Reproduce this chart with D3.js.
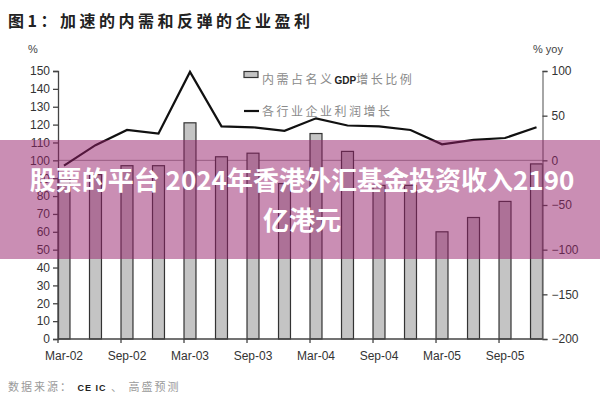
<!DOCTYPE html>
<html>
<head>
<meta charset="utf-8">
<script src="https://cdn.jsdelivr.net/npm/d3@7"></script>
<style>
  body { margin: 0; background: #fff; }
  svg { display: block; font-family: "Liberation Sans", Arial, sans-serif; }
  .cjk { font-family: "Noto Sans CJK SC", "Noto Sans", sans-serif; }
</style>
</head>
<body>
<svg id="chart" width="600" height="400"></svg>
<script>
// quarterly data, Mar-02 .. Dec-05
var quarters = ["Mar-02", "Jun-02", "Sep-02", "Dec-02", "Mar-03", "Jun-03", "Sep-03", "Dec-03",
  "Mar-04", "Jun-04", "Sep-04", "Dec-04", "Mar-05", "Jun-05", "Sep-05", "Dec-05"];
// 内需占名义GDP增长比例 (%), left axis
var domesticShare = [90, 92, 97, 97, 121, 102, 104, 87, 115, 105, 86, 86, 60, 68, 77, 98];
// 各行业企业利润增长 (% yoy), right axis
var profitGrowth = [-6, 17, 34, 30, 99, 38, 37, 33, 47, 39, 38, 34, 18, 23, 25, 37];
var leftTicks = d3.range(0, 151, 10);
var rightTicks = [-200, -150, -100, -50, 0, 50, 100];
var xTickLabels = ["Mar-02", "Sep-02", "Mar-03", "Sep-03", "Mar-04", "Sep-04", "Mar-05", "Sep-05"];

var svg = d3.select('#chart');
// plot box (note: "top" is a reserved window property, so use a plot object)
var plot = { left: 58, right: 542.5, top: 71, bottom: 339 };

// scales
var x = d3.scaleBand()
  .domain(quarters)
  .range([plot.left, plot.right])
  .paddingInner(0.62)
  .paddingOuter(0)
  .align(0);
var yL = d3.scaleLinear().domain([0, 150]).range([plot.bottom, plot.top]);
var yR = d3.scaleLinear().domain([-200, 100]).range([plot.bottom, plot.top]);

// title
svg.append('text')
  .attr('class', 'cjk')
  .attr('x', 8).attr('y', 27)
  .attr('font-size', 16).attr('font-weight', 'bold')
  .attr('letter-spacing', 3.5)
  .attr('fill', '#222')
  .text('图1：加速的内需和反弹的企业盈利');

// axis unit labels
svg.append('text').attr('x', 28).attr('y', 53)
  .attr('font-size', 11).attr('fill', '#444').text('%');
svg.append('text').attr('x', 533).attr('y', 53)
  .attr('font-size', 11).attr('fill', '#444').text('% yoy');

// zero / 100 reference line
svg.append('line')
  .attr('x1', plot.left).attr('x2', plot.right)
  .attr('y1', yR(0)).attr('y2', yR(0))
  .attr('stroke', '#999').attr('stroke-width', 1);

// bars
svg.append('g').selectAll('rect')
  .data(domesticShare).enter()
  .append('rect')
  .attr('x', (d, i) => x(quarters[i]))
  .attr('y', d => yL(d))
  .attr('width', x.bandwidth())
  .attr('height', d => yL(0) - yL(d))
  .attr('fill', '#c4c4c4')
  .attr('stroke', '#333')
  .attr('stroke-width', 1.2);

// line
var line = d3.line()
  .x((d, i) => x(quarters[i]) + x.bandwidth() / 2)
  .y(d => yR(d));
svg.append('path')
  .datum(profitGrowth)
  .attr('d', line)
  .attr('fill', 'none')
  .attr('stroke', '#111')
  .attr('stroke-width', 2.2)
  .attr('stroke-linejoin', 'miter');

// left axis
var axL = svg.append('g')
  .attr('transform', `translate(${plot.left},0)`)
  .call(d3.axisLeft(yL).tickValues(leftTicks).tickSize(5).tickPadding(3));
// right axis
var axR = svg.append('g')
  .attr('transform', `translate(${plot.right},0)`)
  .call(d3.axisRight(yR).tickValues(rightTicks).tickSize(5).tickPadding(4));
// bottom axis, ticks at the left edge of the half-yearly bars
var axB = svg.append('g')
  .attr('transform', `translate(0,${plot.bottom})`)
  .call(d3.axisBottom(x).tickValues(xTickLabels).tickSize(4).tickPadding(8));
axB.selectAll('.tick line').attr('transform', `translate(${-x.bandwidth() / 2},0)`);
axB.select('.domain').attr('d', `M${plot.left},0H${plot.right}`);

[axL, axR, axB].forEach(function(ax) {
  ax.selectAll('path.domain').attr('stroke', '#444').attr('stroke-width', 1.3);
  ax.selectAll('.tick line').attr('stroke', '#444').attr('stroke-width', 1.3);
  ax.selectAll('.tick text')
    .attr('font-family', '"Liberation Sans", Arial, sans-serif')
    .attr('font-size', 12).attr('fill', '#333');
});
axR.select('path.domain').attr('stroke', '#777');

// legend
var legend = svg.append('g').attr('class', 'legend cjk');
legend.append('rect')
  .attr('x', 244).attr('y', 71.5).attr('width', 14).attr('height', 6)
  .attr('fill', '#c4c4c4').attr('stroke', '#333').attr('stroke-width', 1.2);
legend.append('line')
  .attr('x1', 244).attr('x2', 259).attr('y1', 111).attr('y2', 111)
  .attr('stroke', '#111').attr('stroke-width', 2.2);
var t1 = legend.append('text')
  .attr('x', 262).attr('y', 84)
  .attr('font-size', 12).attr('letter-spacing', 2.5).attr('fill', '#8a8a8a');
t1.append('tspan').text('内需占名义');
t1.append('tspan').attr('font-family', '"Liberation Sans", Arial, sans-serif')
  .attr('font-weight', 'bold').attr('font-size', 10).attr('letter-spacing', 0)
  .attr('fill', '#222').text('GDP');
t1.append('tspan').text('增长比例');
legend.append('text')
  .attr('x', 262).attr('y', 116)
  .attr('font-size', 12).attr('letter-spacing', 2.5).attr('fill', '#8a8a8a')
  .text('各行业企业利润增长');

// source
var src = svg.append('text').attr('class', 'cjk')
  .attr('x', 8).attr('y', 391)
  .attr('font-size', 11).attr('letter-spacing', 2).attr('fill', '#9a9a9a');
src.append('tspan').text('数据来源： ');
src.append('tspan').attr('font-family', '"Liberation Sans", Arial, sans-serif')
  .attr('font-weight', 'bold').attr('font-size', 9).attr('letter-spacing', 1)
  .attr('fill', '#222').text('CE IC');
src.append('tspan').text(' 、 高盛预测');

// pink overlay band with caption
svg.append('rect')
  .attr('x', 0).attr('y', 140).attr('width', 600).attr('height', 119)
  .attr('fill', 'rgb(150,30,105)').attr('fill-opacity', 0.5);
var cap = svg.append('g').attr('class', 'cjk')
  .attr('text-anchor', 'middle').attr('fill', '#fff')
  .attr('font-size', 26).attr('font-weight', 'bold');
cap.append('text').attr('x', 302).attr('y', 190)
  .text('股票的平台 2024年香港外汇基金投资收入2190');
cap.append('text').attr('x', 302).attr('y', 230)
  .text('亿港元');
</script>
</body>
</html>
